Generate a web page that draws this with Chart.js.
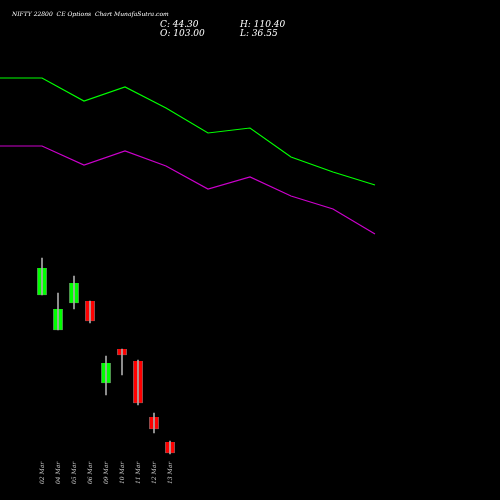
<!DOCTYPE html><html><head><script src="https://cdn.jsdelivr.net/npm/chart.js"></script>
<style>body{margin:0;background:#000}#w{width:500px;height:500px}</style></head><body><div id="w"><canvas id="c"></canvas></div>
<script>
const dates=["02 Mar","04 Mar","05 Mar","06 Mar","09 Mar","10 Mar","11 Mar","12 Mar","13 Mar"];
const candleX=[42,58,74,90,106,122,138,154,170];
const opens=[295,330,303,301,383,349,361,417,442];
const closes=[268,309,283,321,363,355,403,429,453];
const highs=[258,293,276,301,356,349,360,413,441];
const lows=[295,330,309,323,395,375,405,433,454];
const lineX=[0,42,84,125,166,208,250,291,333,375];
const greenLine=[78,78,101,87,108,133,128,157,172,185];
const magentaLine=[146,146,165,151,166,189,177,196,209,234];
const up=closes.map((c,i)=>c<opens[i]);
const labelPlugin={id:'lbl',afterDraw(ch){const x=ch.scales.x,ctx=ch.ctx;ctx.save();
ctx.fillStyle='#ccc';ctx.font='italic 6px "DejaVu Serif"';ctx.textBaseline='middle';
dates.forEach((d,i)=>{ctx.save();ctx.translate(x.getPixelForValue(candleX[i]),484);ctx.rotate(-Math.PI/2);ctx.fillText(d,0,0);ctx.restore();});
ctx.fillStyle='#fff';ctx.font='italic 6px "DejaVu Serif"';ctx.fillText('NIFTY 22800  CE Options  Chart MunafaSutra.com',12,14);
ctx.font='italic 9px "DejaVu Serif"';ctx.fillText('C: 44.30',160,25);ctx.fillText('O: 103.00',160,34);ctx.fillText('H: 110.40',240,25);ctx.fillText('L: 36.55',240,34);
ctx.restore();}};
new Chart(document.getElementById('c'),{data:{datasets:[
{type:'line',data:lineX.map((x,i)=>({x,y:greenLine[i]})),borderColor:'#00ff00',borderWidth:1.2,pointRadius:0},
{type:'line',data:lineX.map((x,i)=>({x,y:magentaLine[i]})),borderColor:'#cc00cc',borderWidth:1.2,pointRadius:0},
{type:'bar',data:candleX.map((x,i)=>({x,y:[highs[i],lows[i]]})),backgroundColor:'#aaa',barThickness:1,grouped:false},
{type:'bar',data:candleX.map((x,i)=>({x,y:[opens[i],closes[i]]})),backgroundColor:up.map(u=>u?'#00ff00':'#ff0000'),borderColor:'#999',borderWidth:0.5,barThickness:9,grouped:false}
]},options:{responsive:true,maintainAspectRatio:false,animation:false,layout:{padding:0},
plugins:{legend:{display:false},tooltip:{enabled:false}},
scales:{x:{type:'linear',min:0,max:500,offset:false,display:false},y:{min:0,max:500,reverse:true,display:false}}},plugins:[labelPlugin]});
</script></body></html>
